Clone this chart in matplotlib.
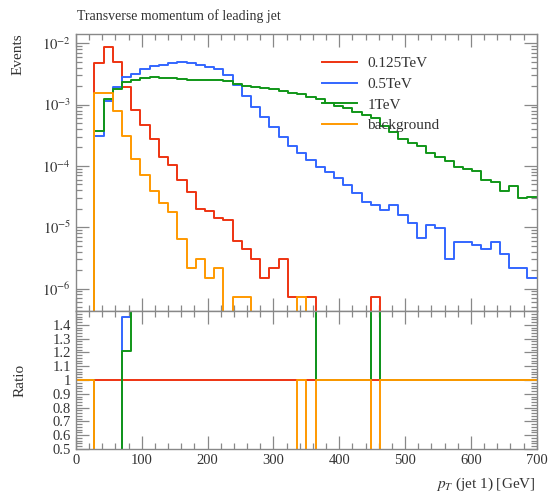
import numpy as np
import matplotlib
matplotlib.use("Agg")
import matplotlib.pyplot as plt
from matplotlib.ticker import FixedLocator, MultipleLocator, LogLocator, NullFormatter

# ---------------- data ----------------
bin_width = 14.0
n_bins = 50
w = 7.3e-7  # single-event weight level

red_0125 = [0, 0,
    4.7e-3, 8.6e-3, 4.9e-3, 1.96e-3, 8.2e-4, 4.65e-4, 2.75e-4, 1.41e-4, 1.03e-4, 5.9e-5,
    3.7e-5, 1.96e-5, 1.86e-5, 1.4e-5, 1.3e-5, 6.0e-6, 4.4e-6, 3.0e-6, 1.47e-6, 2.2e-6,
    3.0e-6, w, w, w, 0, 0, 0, 0, 0, 0,
    w, 0, 0, 0, 0, 0, 0, 0, 0, 0,
    0, 0, 0, 0, 0, 0, 0, 0]

blue_05 = [0, 0,
    3.1e-4, 1.15e-3, 1.91e-3, 2.85e-3, 3.2e-3, 3.77e-3, 4.26e-3, 4.5e-3, 4.8e-3, 4.9e-3,
    4.75e-3, 4.45e-3, 4.14e-3, 3.77e-3, 3.0e-3, 2.12e-3, 1.4e-3, 9.2e-4, 6.3e-4, 4.3e-4,
    2.93e-4, 2.1e-4, 1.6e-4, 1.25e-4, 9.5e-5, 8.0e-5, 6.3e-5, 4.9e-5, 3.57e-5, 2.6e-5,
    2.3e-5, 1.9e-5, 2.3e-5, 1.58e-5, 1.18e-5, 6.6e-6, 1.09e-5, 9.6e-6, 3.0e-6, 5.8e-6,
    5.8e-6, 5.1e-6, 4.4e-6, 5.8e-6, 3.66e-6, 2.2e-6, 2.2e-6, 1.47e-6]

green_1 = [0, 0,
    3.76e-4, 1.23e-3, 1.78e-3, 2.37e-3, 2.5e-3, 2.7e-3, 2.8e-3, 2.75e-3, 2.75e-3, 2.65e-3,
    2.55e-3, 2.5e-3, 2.5e-3, 2.5e-3, 2.45e-3, 2.14e-3, 2.03e-3, 1.96e-3, 1.84e-3, 1.78e-3,
    1.67e-3, 1.57e-3, 1.47e-3, 1.35e-3, 1.22e-3, 1.05e-3, 9.6e-4, 8.7e-4, 7.7e-4, 6.8e-4,
    6.0e-4, 4.4e-4, 3.6e-4, 2.72e-4, 2.34e-4, 2.1e-4, 1.6e-4, 1.41e-4, 1.22e-4, 9.7e-5,
    8.8e-5, 8.35e-5, 5.9e-5, 5.5e-5, 3.9e-5, 4.7e-5, 2.95e-5, 3.07e-5]

orange_bkg = [0, 0,
    1.53e-3, 1.53e-3, 7.9e-4, 3.08e-4, 1.3e-4, 7.1e-5, 3.9e-5, 2.45e-5, 1.75e-5, 6.4e-6,
    2.14e-6, 3.0e-6, 1.47e-6, 2.2e-6, 0, w, w, 0, 0, 0,
    0, 0, w, 0, 0, 0, 0, 0, 0, 0,
    0, 0, 0, 0, 0, 0, 0, 0, 0, 0,
    0, 0, 0, 0, 0, 0, 0, 0]

labels = ["0.125TeV", "0.5TeV", "1TeV", "background"]
colors = ["#EE3311", "#3366FF", "#109618", "#FF9900"]

x_ticks = [0, 100, 200, 300, 400, 500, 600, 700]
ratio_ticks = [0.5, 0.6, 0.7, 0.8, 0.9, 1.0, 1.1, 1.2, 1.3, 1.4]
ratio_ticklabels = ["0.5", "0.6", "0.7", "0.8", "0.9", "1", "1.1", "1.2", "1.3", "1.4"]
log_ticks = [1e-6, 1e-5, 1e-4, 1e-3, 1e-2]

# ---------------- style ----------------
plt.rcParams["font.family"] = ["Liberation Serif", "DejaVu Serif"]
plt.rcParams["mathtext.fontset"] = "stix"
spine_c = "#888888"
text_c = "#333333"

fig = plt.figure(figsize=(5.51, 4.97), dpi=100)
L, W = 76 / 551, (536.7 - 76) / 551
ax = fig.add_axes([L, 1 - 311 / 497, W, (311 - 34) / 497])
axr = fig.add_axes([L, 1 - 449 / 497, W, (449 - 311) / 497], sharex=ax)

edges = np.arange(n_bins + 1) * bin_width
series = [np.array(red_0125), np.array(blue_05), np.array(green_1), np.array(orange_bkg)]
ref = series[0]

for vals, lab, col in zip(series, labels, colors):
    ax.step(edges, np.append(vals, vals[-1]), where="post", color=col, lw=1.4, label=lab)
    ratio = np.where(ref > 0, vals / np.where(ref > 0, ref, 1.0), 1.0)
    axr.step(edges, np.append(ratio, ratio[-1]), where="post", color=col, lw=1.4)

ax.set_yscale("log", nonpositive="clip")
ax.set_xlim(0, 700)
ax.set_ylim(10 ** -6.367, 10 ** -1.848)
axr.set_ylim(0.5, 1.5)

ax.yaxis.set_major_locator(FixedLocator(log_ticks))
ax.yaxis.set_minor_locator(LogLocator(base=10, subs=np.arange(2, 10)))
ax.yaxis.set_minor_formatter(NullFormatter())
ax.set_yticklabels([r"$10^{%d}$" % int(np.log10(t)) for t in log_ticks])

axr.xaxis.set_major_locator(FixedLocator(x_ticks))
axr.xaxis.set_minor_locator(MultipleLocator(20))
axr.set_xticklabels([str(t) for t in x_ticks])
axr.yaxis.set_major_locator(FixedLocator(ratio_ticks))
axr.set_yticklabels(ratio_ticklabels)
axr.yaxis.set_minor_locator(MultipleLocator(0.02))
plt.setp(ax.get_xticklabels(), visible=False)

for a in (ax, axr):
    for s in a.spines.values():
        s.set_color(spine_c)
        s.set_linewidth(1.0)
    a.tick_params(which="both", direction="in", top=True, right=True,
                  color=spine_c, labelcolor=text_c, labelsize=10.5, width=0.9)
    a.tick_params(which="major", length=9.5)
    a.tick_params(which="minor", length=4.5)
    a.set_facecolor("white")

leg = ax.legend(loc="upper left", bbox_to_anchor=(0.52, 0.94), frameon=False,
                fontsize=11, handlelength=2.3, handletextpad=0.7, labelspacing=0.45,
                borderaxespad=0)
for t in leg.get_texts():
    t.set_color(text_c)

fig.text(77 / 551, 1 - 16 / 497, "Transverse momentum of leading jet", ha="left",
         va="center", fontsize=10, color=text_c)
fig.text(18 / 551, 1 - 33 / 497, "Events", rotation=90, ha="center", va="top",
         fontsize=11, color=text_c)
fig.text(20 / 551, 1 - 380 / 497, "Ratio", rotation=90, ha="center", va="center",
         fontsize=11, color=text_c)
fig.text(536 / 551, 1 - 484 / 497, r"$p_T$ (jet 1) [GeV]", ha="right", va="center",
         fontsize=11, color=text_c)

fig.savefig("out.png", dpi=100)
